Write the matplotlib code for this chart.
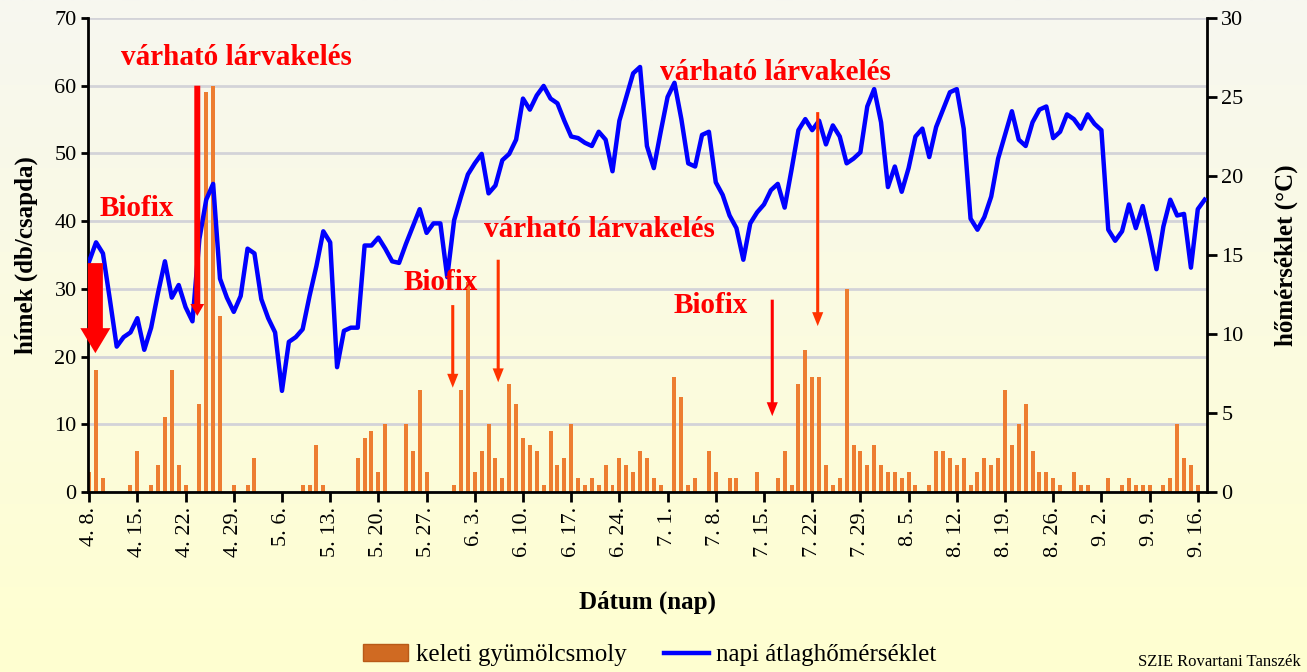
import matplotlib.pyplot as plt
import numpy as np
from matplotlib.patches import Patch
from matplotlib.lines import Line2D

# daily catch (males / trap), day 0 = 4.8.
catch = [3, 18, 2, 0, 0, 0, 1, 6, 0, 1, 4, 11, 18, 4, 1, 0, 13, 59, 60, 26,
         0, 1, 0, 1, 5, 0, 0, 0, 0, 0, 0, 1, 1, 7, 1, 0, 0, 0, 0, 5,
         8, 9, 3, 10, 0, 0, 10, 6, 15, 3, 0, 0, 0, 1, 15, 31, 3, 6, 10, 5,
         2, 16, 13, 8, 7, 6, 1, 9, 4, 5, 10, 2, 1, 2, 1, 4, 1, 5, 4, 3,
         6, 5, 2, 1, 0, 17, 14, 1, 2, 0, 6, 3, 0, 2, 2, 0, 0, 3, 0, 0,
         2, 6, 1, 16, 21, 17, 17, 4, 1, 2, 30, 7, 6, 4, 7, 4, 3, 3, 2, 3,
         1, 0, 1, 6, 6, 5, 4, 5, 1, 3, 5, 4, 5, 15, 7, 10, 13, 6, 3, 3,
         2, 1, 0, 3, 1, 1, 0, 0, 2, 0, 1, 2, 1, 1, 1, 0, 1, 2, 10, 5,
         4, 1, 0]

# daily mean temperature (°C)
temp = [14.6, 15.8, 15.1, 12.2, 9.2, 9.8, 10.1, 11.0, 9.0, 10.4,
        12.6, 14.6, 12.3, 13.1, 11.7, 10.8, 16.0, 18.5, 19.5, 13.5,
        12.3, 11.4, 12.4, 15.4, 15.1, 12.2, 11.0, 10.1, 6.4, 9.5,
        9.8, 10.3, 12.4, 14.3, 16.5, 15.8, 7.9, 10.2, 10.4, 10.4,
        15.6, 15.6, 16.1, 15.4, 14.6, 14.5, 15.7, 16.8, 17.9, 16.4,
        17.0, 17.0, 13.6, 17.2, 18.7, 20.1, 20.8, 21.4, 18.9, 19.4,
        21.0, 21.4, 22.3, 24.9, 24.2, 25.1, 25.7, 24.9, 24.6, 23.5,
        22.5, 22.4, 22.1, 21.9, 22.8, 22.3, 20.3, 23.5, 25.0, 26.5,
        26.9, 21.9, 20.5, 22.8, 25.0, 25.9, 23.6, 20.8, 20.6, 22.6,
        22.8, 19.6, 18.8, 17.5, 16.7, 14.7, 17.0, 17.7, 18.2, 19.1,
        19.5, 18.0, 20.4, 22.9, 23.6, 22.9, 23.5, 22.0, 23.2, 22.5,
        20.8, 21.1, 21.5, 24.4, 25.5, 23.4, 19.3, 20.6, 19.0, 20.5,
        22.5, 23.0, 21.2, 23.1, 24.2, 25.3, 25.5, 23.0, 17.3, 16.6,
        17.4, 18.7, 21.1, 22.6, 24.1, 22.3, 21.9, 23.4, 24.2, 24.4,
        22.4, 22.8, 23.9, 23.6, 23.0, 23.9, 23.3, 22.9, 16.6, 15.9,
        16.5, 18.2, 16.7, 18.1, 16.2, 14.1, 16.8, 18.5, 17.5, 17.6,
        14.2, 17.9, 18.5]

tick_labels = ['4. 8.', '4. 15.', '4. 22.', '4. 29.', '5. 6.', '5. 13.', '5. 20.',
               '5. 27.', '6. 3.', '6. 10.', '6. 17.', '6. 24.', '7. 1.', '7. 8.',
               '7. 15.', '7. 22.', '7. 29.', '8. 5.', '8. 12.', '8. 19.', '8. 26.',
               '9. 2.', '9. 9.', '9. 16.']

# annotations: (text, day, left-axis value)
notes = [('várható lárvakelés', 21.4, 64.2), ('Biofix', 6.9, 41.9),
         ('Biofix', 51.0, 31.0), ('várható lárvakelés', 74.1, 38.7),
         ('Biofix', 90.2, 27.6), ('várható lárvakelés', 99.7, 62.0)]

# arrows: day, from, to, tail, head width, head length (pt), colour
arrows = [(0.9, 33.8, 20.5, 10.8, 21.6, 18, '#FF0000'),
          (15.7, 60.0, 26.0, 4.3, 10, 8.6, '#FF0000'),
          (52.8, 27.6, 15.4, 2.2, 8, 10, '#FF3300'),
          (59.4, 34.3, 16.2, 2.2, 8, 10, '#FF3300'),
          (99.2, 28.4, 11.2, 2.2, 8, 10, '#FF0000'),
          (105.8, 56.1, 24.5, 2.2, 8, 10, '#FF3300')]

plt.rcParams['font.family'] = ['Liberation Serif', 'DejaVu Serif']

fig = plt.figure(figsize=(13.07, 6.72), dpi=100)

# background gradient
bg = fig.add_axes([0, 0, 1, 1], zorder=-5)
top_c = np.array([247, 247, 240]) / 255
bot_c = np.array([255, 255, 208]) / 255
t = np.linspace(0, 1, 256)[:, None]
grad = top_c[None, None, :] * (1 - t[:, :, None]) + bot_c[None, None, :] * t[:, :, None]
bg.imshow(np.repeat(grad, 2, axis=1), aspect='auto', extent=[0, 1, 0, 1])
bg.axis('off')

ax = fig.add_axes([0.0677, 0.2679, 0.8556, 0.7053])
ax.patch.set_alpha(0)
days = np.arange(len(catch))
ax.bar(days, catch, width=0.58, color='#ED7D31', zorder=2)
ax.set_ylim(0, 70)
ax.set_yticks(range(0, 71, 10))
ax.set_xlim(-0.1, 162.3)
ax.set_xticks(np.arange(0, 162, 7))
ax.set_xticklabels(tick_labels, rotation=90, fontsize=16)
ax.tick_params(axis='y', labelsize=16, width=2, length=5)
ax.tick_params(axis='x', width=2, length=7)
ax.grid(axis='y', color='#D3D3D8', lw=2, zorder=0)
ax.set_axisbelow(True)
for s in ['left', 'bottom']:
    ax.spines[s].set_linewidth(2)
ax.spines['top'].set_visible(False)
ax.spines['right'].set_visible(False)
ax.set_ylabel('hímek (db/csapda)', fontsize=18, fontweight='bold', labelpad=12)
ax.set_xlabel('Dátum (nap)', fontsize=18, fontweight='bold', labelpad=24)

ax2 = ax.twinx()
ax2.plot(np.arange(len(temp)), temp, color='#0000FF', lw=3.2, zorder=3)
ax2.set_ylim(0, 30)
ax2.set_yticks(range(0, 31, 5))
ax2.tick_params(axis='y', labelsize=16, width=2, length=7)
ax2.spines['right'].set_linewidth(2)
ax2.spines['top'].set_visible(False)
ax2.spines['left'].set_visible(False)
ax2.spines['bottom'].set_visible(False)
ax2.set_ylabel('hőmérséklet (°C)', fontsize=18, fontweight='bold', labelpad=22)

for txt, x, y in notes:
    ax2.text(x, y * 30 / 70, txt, color='#FF0000', fontsize=21, fontweight='bold',
             ha='center', va='center', zorder=5)

for x, y0, y1, tw, hw, hl, c in arrows:
    ax2.annotate('', xy=(x, y1 * 30 / 70), xytext=(x, y0 * 30 / 70),
                 arrowprops=dict(arrowstyle=f'simple,head_length={hl},head_width={hw},tail_width={tw}',
                                 mutation_scale=1, color=c, shrinkA=0, shrinkB=0, lw=0),
                 zorder=5)

handles = [Patch(facecolor='#D06A22', edgecolor='#B85A18'),
           Line2D([], [], color='#0000FF', lw=3.2)]
fig.legend(handles, ['keleti gyümölcsmoly', 'napi átlaghőmérséklet'],
           loc='center', bbox_to_anchor=(650 / 1307, 1 - 655 / 672), ncol=2,
           frameon=False, fontsize=18, handlelength=1.8, columnspacing=1.5,
           handletextpad=0.3)

fig.text(0.995, 1 - 662 / 672, 'SZIE Rovartani Tanszék', fontsize=12,
         ha='right', va='center')

fig.savefig('out.png', dpi=100)
